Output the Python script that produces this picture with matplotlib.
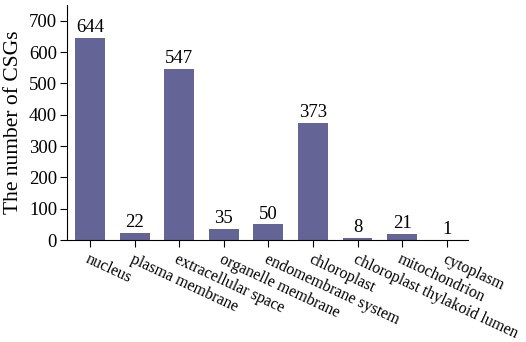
import matplotlib.pyplot as plt
import numpy as np

plt.rcParams['font.family'] = ['Liberation Serif', 'DejaVu Serif']

categories = ["nucleus", "plasma membrane", "extracellular space", "organelle membrane",
              "endomembrane system", "chloroplast", "chloroplast thylakoid lumen",
              "mitochondrion", "cytoplasm"]
counts = [644, 22, 547, 35, 50, 373, 8, 21, 1]

fig = plt.figure(figsize=(5.26, 3.42), dpi=100)
ax = fig.add_axes([0.127, 0.298, 0.763, 0.687])
x = np.arange(len(categories))
ax.bar(x, counts, width=0.67, color='#646496')
for xi, c in zip(x, counts):
    ax.text(xi, c + 6, str(c), ha='center', va='bottom', fontsize=13.5)

ax.set_xlim(-0.52, 8.48)
ax.set_ylim(0, 750)
ax.set_yticks(range(0, 701, 100))
ax.set_xticks(x)
ax.set_xticklabels(categories, rotation=-25, ha='left', rotation_mode='anchor', fontsize=11.5)
ax.tick_params(axis='y', labelsize=13.5, direction='out', length=5, pad=2)
ax.tick_params(axis='x', direction='out', length=5, pad=3)
ax.set_ylabel("The number of CSGs", fontsize=15.5, labelpad=4)
ax.spines['top'].set_visible(False)
ax.spines['right'].set_visible(False)
plt.savefig("out.png", dpi=100)
